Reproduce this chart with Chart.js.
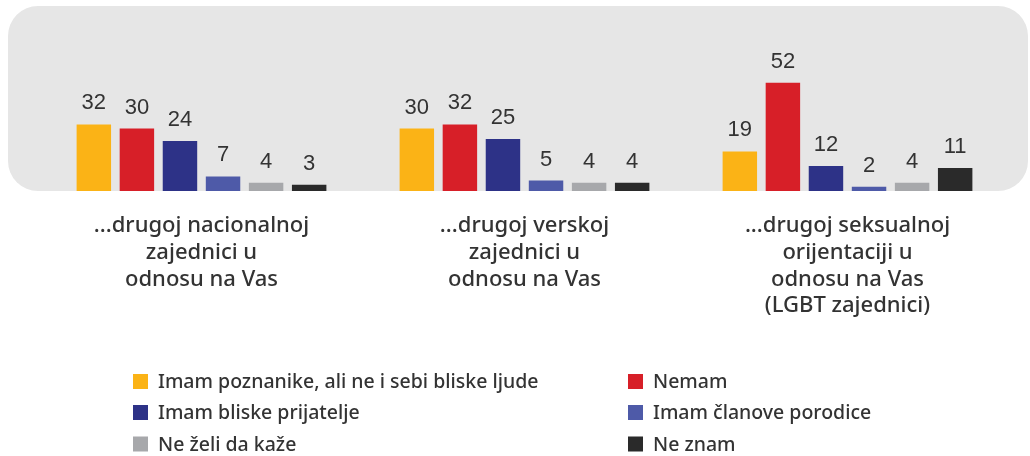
<!DOCTYPE html>
<html>
<head>
<meta charset="utf-8">
<script src="https://cdn.jsdelivr.net/npm/chart.js@4/dist/chart.umd.min.js"></script>
<style>
  html, body { margin: 0; padding: 0; background: #ffffff; }
  #wrap { width: 1030px; height: 456px; position: relative; }
</style>
</head>
<body>
<div id="wrap"><canvas id="c" width="1030" height="456"></canvas></div>
<script>
const categories = [
  ["...drugoj nacionalnoj", "zajednici u", "odnosu na Vas"],
  ["...drugoj verskoj", "zajednici u", "odnosu na Vas"],
  ["...drugoj seksualnoj", "orijentaciji u", "odnosu na Vas", "(LGBT zajednici)"]
];
const seriesNames = [
  "Imam poznanike, ali ne i sebi bliske ljude",
  "Nemam",
  "Imam bliske prijatelje",
  "Imam članove porodice",
  "Ne želi da kaže",
  "Ne znam"
];
const poznanici = [32, 30, 19];
const nemam = [30, 32, 52];
const prijatelji = [24, 25, 12];
const porodica = [7, 5, 2];
const neZeli = [4, 4, 4];
const neZnam = [3, 4, 11];
const colors = ["#FBB316", "#D71F28", "#2D3287", "#4E5AA8", "#A7A8AB", "#2A2A2A"];

const seriesValues = [poznanici, nemam, prijatelji, porodica, neZeli, neZnam];
const TEXT = "#333333";
const LABEL_FONT = "'Noto Sans', sans-serif";

const bgPlugin = {
  id: "bgPanel",
  beforeDraw(chart) {
    const ctx = chart.ctx;
    const a = chart.chartArea;
    ctx.save();
    ctx.fillStyle = "#E6E6E6";
    ctx.beginPath();
    ctx.roundRect(8, 6, 1020, a.bottom - 6, 30);
    ctx.fill();
    ctx.restore();
  }
};

const valuePlugin = {
  id: "values",
  afterDatasetsDraw(chart) {
    const ctx = chart.ctx;
    ctx.save();
    ctx.font = "22px 'Liberation Sans', Arial, sans-serif";
    ctx.fillStyle = TEXT;
    ctx.textAlign = "center";
    ctx.textBaseline = "alphabetic";
    chart.data.datasets.forEach((ds, i) => {
      chart.getDatasetMeta(i).data.forEach((bar, j) => {
        ctx.fillText(String(ds.data[j]), bar.x, bar.y - 15);
      });
    });
    ctx.restore();
  }
};

const legendPlugin = {
  id: "gridLegend",
  afterDraw(chart) {
    const ctx = chart.ctx;
    const colX = [133, 628];
    const rowY = [381.5, 412.5, 444];
    ctx.save();
    ctx.font = "500 19.5px " + LABEL_FONT;
    ctx.textBaseline = "middle";
    ctx.textAlign = "left";
    chart.data.datasets.forEach((ds, i) => {
      const x = colX[i % 2];
      const y = rowY[Math.floor(i / 2)];
      ctx.fillStyle = ds.backgroundColor;
      ctx.fillRect(x, y - 7.5, 15, 15);
      ctx.fillStyle = TEXT;
      ctx.fillText(ds.label, x + 25, y + 1);
    });
    ctx.restore();
  }
};

new Chart(document.getElementById("c"), {
  type: "bar",
  data: {
    labels: categories,
    datasets: seriesNames.map((name, i) => ({
      label: name,
      data: seriesValues[i],
      backgroundColor: colors[i],
      borderWidth: 0,
      categoryPercentage: 0.8,
      barPercentage: 0.8
    }))
  },
  options: {
    responsive: false,
    animation: false,
    layout: { padding: { top: 8, left: 40, right: 21, bottom: 115 } },
    plugins: {
      legend: { display: false },
      tooltip: { enabled: false }
    },
    scales: {
      x: {
        grid: { display: false, drawTicks: false },
        border: { display: false },
        ticks: {
          color: TEXT,
          padding: 22,
          font: { family: LABEL_FONT, size: 22, weight: 500, lineHeight: 1.205 },
          maxRotation: 0,
          autoSkip: false
        }
      },
      y: {
        display: false,
        min: 0,
        max: 88
      }
    }
  },
  plugins: [bgPlugin, valuePlugin, legendPlugin]
});
</script>
</body>
</html>
